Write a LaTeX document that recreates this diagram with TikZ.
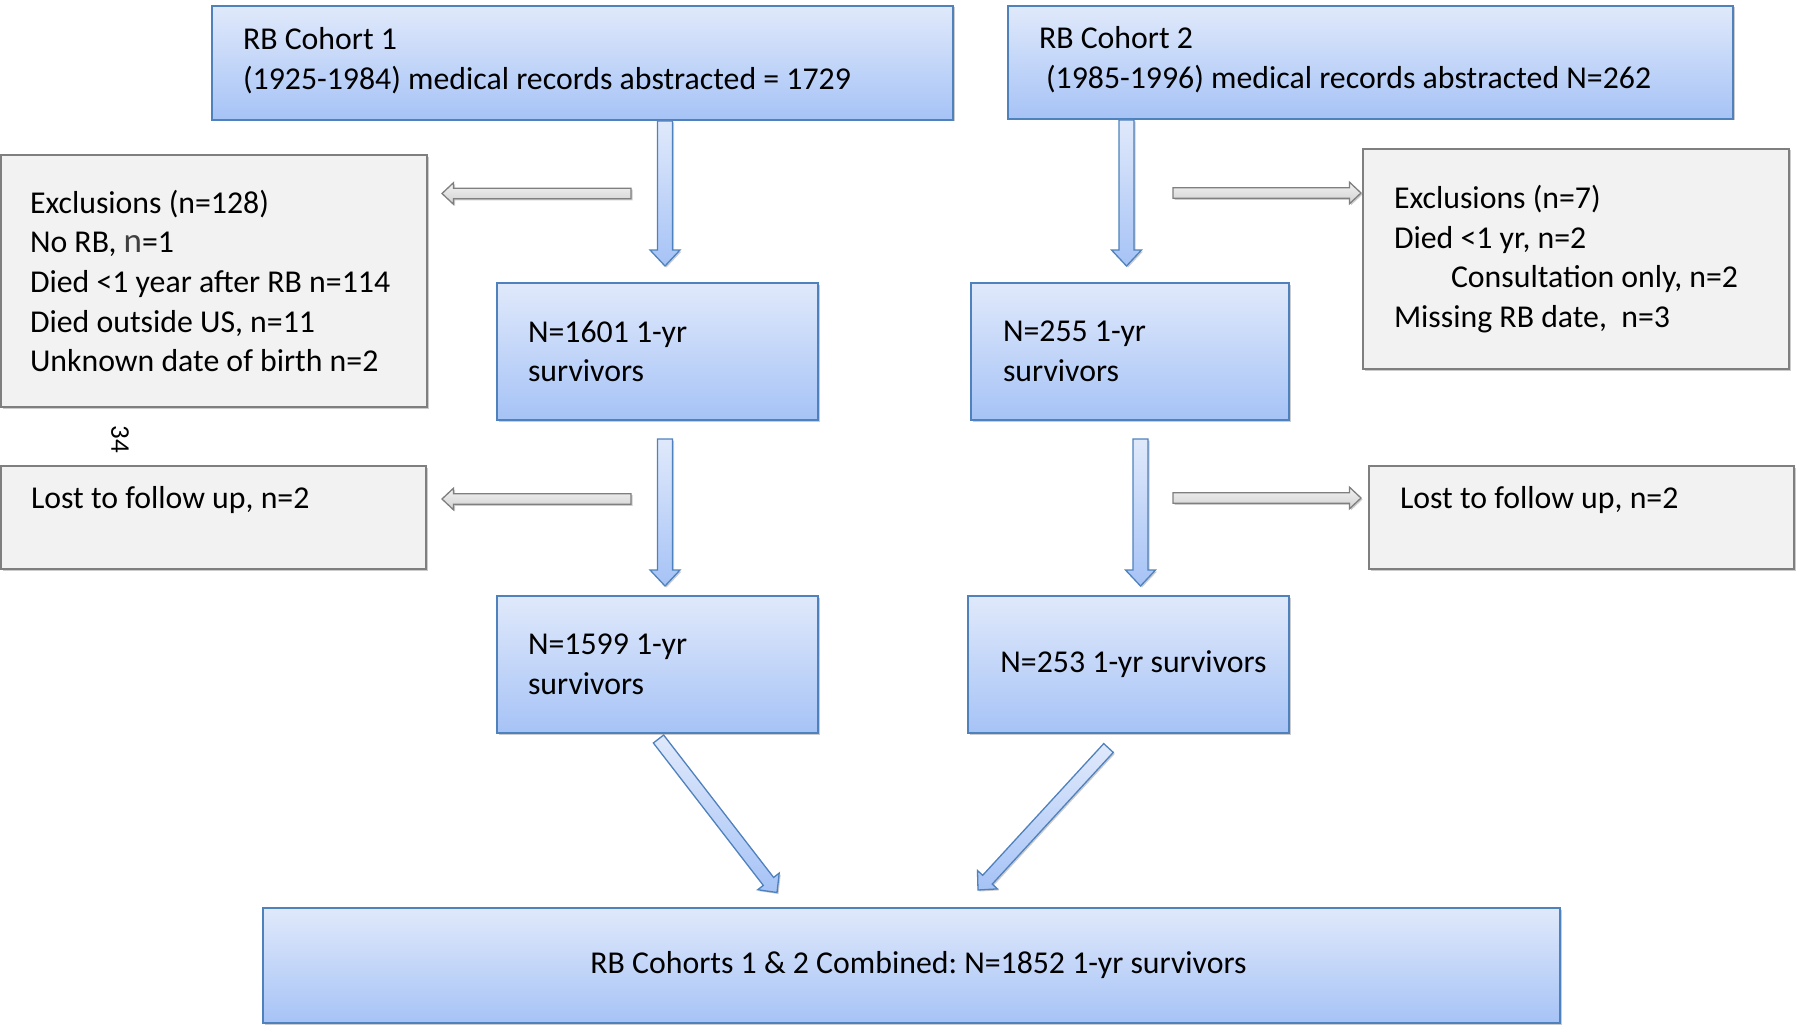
\documentclass[tikz,border=0pt]{standalone}
\usepackage{fontspec}
\setmainfont{Carlito}
\usepackage{tikz}
\usetikzlibrary{calc,shadows}

\definecolor{boxblue}{HTML}{4F81BD}
\definecolor{bluetop}{HTML}{E0E9FB}
\definecolor{bluebot}{HTML}{A6C3F6}
\definecolor{greyfill}{HTML}{F2F2F2}
\definecolor{greyline}{HTML}{7F7F7F}

\tikzset{
  shaft/.store in=\bashaft, head/.store in=\bahead, headlen/.store in=\balen,
  shaft=7pt, head=14pt, headlen=15pt,
  softshadow/.style={drop shadow={shadow xshift=1.5pt, shadow yshift=-1.5pt, opacity=0.2, fill=black}},
  flowtext/.style={font=\fontsize{31.8}{39.7}\selectfont\frenchspacing, align=flush left},
  bluebox/.style={flowtext, draw=boxblue, line width=1.5pt, top color=bluetop, bottom color=bluebot, softshadow},
  greybox/.style={flowtext, draw=greyline, line width=1.5pt, fill=greyfill, softshadow},
  bluearrow/.style={draw=boxblue, line width=1.3pt, top color=bluetop, bottom color=bluebot, softshadow, shaft=7.5pt, head=15pt, headlen=16pt},
  diagarrow/.style={bluearrow, shaft=6.5pt, head=13.6pt, headlen=14pt},
  greyarrow/.style={draw=greyline, line width=1.3pt, top color=black!5, bottom color=black!18, softshadow, shaft=5.3pt, head=10.8pt, headlen=11.5pt},
}

% block arrow from #2 to the tip #3
\newcommand{\blockarrow}[3][]{%
  \draw[#1] ($(#2)!\bashaft!90:(#3)$)
    -- ($(#3)!\balen!(#2)!\bashaft!90:(#3)$)
    -- ($(#3)!\balen!(#2)!\bahead!90:(#3)$)
    -- (#3)
    -- ($(#3)!\balen!(#2)!\bahead!-90:(#3)$)
    -- ($(#3)!\balen!(#2)!\bashaft!-90:(#3)$)
    -- ($(#2)!\bashaft!-90:(#3)$) -- cycle;}

\begin{document}
\begin{tikzpicture}[x=1pt, y=-1pt]
    \useasboundingbox (0,0) rectangle (1796,1030);

    \node[bluebox, inner xsep=31pt, text width=679pt, minimum height=114pt] (coh1) at (582.5,63)
        {RB Cohort 1\\(1925-1984) medical records abstracted = 1729\\[-30pt]\mbox{}};
    \node[bluebox, inner xsep=31pt, text width=663pt, minimum height=113pt] (coh2) at (1370.5,62.5)
        {RB Cohort 2\\\hspace*{7pt}(1985-1996) medical records abstracted N=262\\[-30pt]\mbox{}};

    \node[greybox, inner xsep=29pt, text width=368pt, minimum height=252pt] (excl1) at (214,281)
        {Exclusions (n=128)\\No RB, {\color{darkgray}\fontsize{35}{39.7}\selectfont n}=1\\Died <1 year after RB n=114\\Died outside US, n=11\\Unknown date of birth n=2};
    \node[greybox, inner xsep=31pt, text width=364pt, minimum height=220pt] (excl2) at (1576,259)
        {Exclusions (n=7)\\Died <1 yr, n=2\\\hspace*{57pt}Consultation only, n=2\\Missing RB date,\ \ n=3};

    \node[bluebox, inner xsep=31pt, text width=259pt, minimum height=137pt] (surv1) at (657.5,351.5)
        {N=1601 1-yr\\survivors};
    \node[bluebox, inner xsep=32pt, text width=254pt, minimum height=137pt] (surv2) at (1130,351.5)
        {N=255 1-yr\\survivors};

    \node[font=\fontsize{27}{30}\selectfont, rotate=-90] (pgno) at (120,439) {34};

    \node[greybox, inner xsep=30pt, text width=365pt, minimum height=103pt] (lost1) at (213.5,517.5)
        {Lost to follow up, n=2\\~};
    \node[greybox, inner xsep=31pt, text width=363pt, minimum height=103pt] (lost2) at (1581.5,517.5)
        {Lost to follow up, n=2\\~};

    \node[bluebox, inner xsep=31pt, text width=259pt, minimum height=137pt] (surv3) at (657.5,664.5)
        {N=1599 1-yr\\survivors};
    \node[bluebox, inner xsep=20pt, text width=281pt, minimum height=137pt, align=flush center] (surv4) at (1128.5,664.5)
        {\hspace*{10pt}N=253 1-yr survivors};

    \node[bluebox, inner xsep=31pt, text width=1235pt, minimum height=115pt, align=flush center] (comb) at (911.5,965.5)
        {\hspace*{14pt}RB Cohorts 1 \& 2 Combined: N=1852 1-yr survivors};

    % arrow ends
    \coordinate (a1s) at (665,121);    \coordinate (a1e) at (665,266);
    \coordinate (a2s) at (1126.5,120); \coordinate (a2e) at (1126.5,266);
    \coordinate (a3s) at (665,439);    \coordinate (a3e) at (665,586);
    \coordinate (a4s) at (1140.5,439); \coordinate (a4e) at (1140.5,586);
    \coordinate (g1s) at (631,193.5);  \coordinate (g1e) at (442,193.5);
    \coordinate (g2s) at (631,499);    \coordinate (g2e) at (442,499);
    \coordinate (g3s) at (1173,193);   \coordinate (g3e) at (1361,193);
    \coordinate (g4s) at (1173,498);   \coordinate (g4e) at (1361,498);
    \coordinate (d1s) at (658.5,739);  \coordinate (d1e) at (777,892.5);
    \coordinate (d2s) at (1108.5,748); \coordinate (d2e) at (978,890);

    \blockarrow[bluearrow]{a1s}{a1e}
    \blockarrow[bluearrow]{a2s}{a2e}
    \blockarrow[bluearrow]{a3s}{a3e}
    \blockarrow[bluearrow]{a4s}{a4e}
    \blockarrow[greyarrow]{g1s}{g1e}
    \blockarrow[greyarrow]{g2s}{g2e}
    \blockarrow[greyarrow]{g3s}{g3e}
    \blockarrow[greyarrow]{g4s}{g4e}
    \blockarrow[diagarrow]{d1s}{d1e}
    \blockarrow[diagarrow]{d2s}{d2e}
\end{tikzpicture}
\end{document}
